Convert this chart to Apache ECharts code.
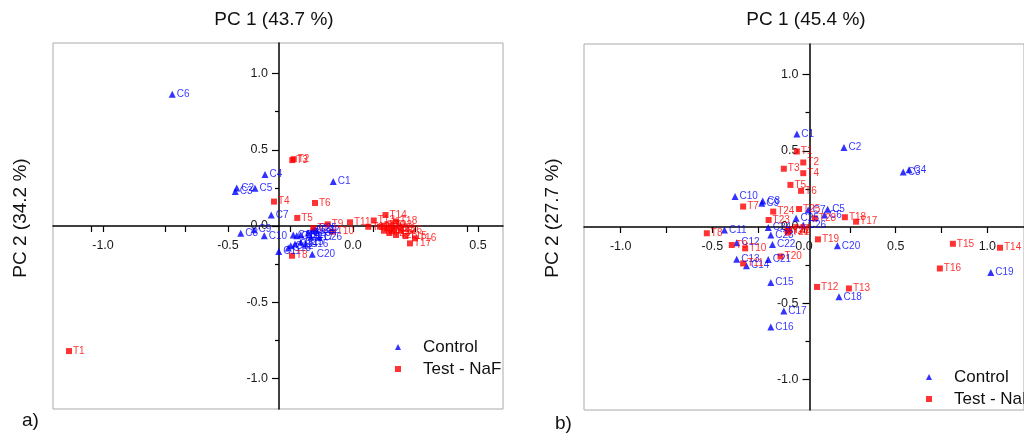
<!DOCTYPE html>
<html><head><meta charset="utf-8">
<script src="https://cdn.jsdelivr.net/npm/echarts@6/dist/echarts.min.js"></script>
<style>html,body{margin:0;padding:0;background:#fff}#c{width:1024px;height:433px}</style>
</head><body><div id="c"></div>
<script>
// ---------- Panel a) data ----------
const ctrlA_names = ['C1','C2','C3','C4','C5','C6','C7','C8','C9','C10','C11','C12','C13','C14','C15','C16','C17','C18','C19','C20','C21','C22','C23','C24','C25','C26'];
const ctrlA_pc1 = [-0.079,-0.465,-0.471,-0.352,-0.392,-0.723,-0.327,-0.449,-0.396,-0.355,-0.297,-0.249,-0.259,-0.232,-0.209,-0.190,-0.169,-0.239,-0.225,-0.163,-0.209,-0.145,-0.179,-0.165,-0.156,-0.135];
const ctrlA_pc2 = [0.292,0.250,0.226,0.338,0.248,0.864,0.072,-0.048,-0.024,-0.064,-0.167,-0.130,-0.145,-0.118,-0.107,-0.120,-0.074,-0.059,-0.064,-0.186,-0.059,-0.031,-0.046,-0.031,-0.015,-0.074];
const testA_names = ['T1','T2','T3','T4','T5','T6','T7','T8','T9','T10','T11','T12','T13','T14','T15','T16','T17','T18','T19','T20','T21','T22','T23','T24','T25','T26','T27','T28'];
const testA_pc1 = [-1.136,-0.237,-0.243,-0.316,-0.223,-0.152,-0.159,-0.244,-0.101,-0.081,-0.012,0.061,0.083,0.130,0.210,0.248,0.228,0.172,0.108,0.124,0.137,0.151,0.164,0.145,0.172,0.191,0.124,0.155];
const testA_pc2 = [-0.820,0.438,0.432,0.160,0.053,0.151,-0.013,-0.195,0.011,-0.037,0.024,-0.005,0.036,0.072,-0.066,-0.081,-0.114,0.030,-0.004,0.002,-0.015,0.002,-0.020,-0.046,-0.059,-0.031,-0.031,-0.035];

// ---------- Panel b) data ----------
const ctrlB_names = ['C1','C2','C3','C4','C5','C6','C7','C8','C9','C10','C11','C12','C13','C14','C15','C16','C17','C18','C19','C20','C21','C22','C23','C24','C25','C26'];
const ctrlB_pc1 = [-0.039,0.218,0.541,0.573,0.129,0.112,0.023,-0.225,-0.230,-0.376,-0.434,-0.367,-0.367,-0.314,-0.181,-0.181,-0.110,0.191,1.019,0.182,-0.195,-0.172,-0.181,-0.195,-0.043,-0.004];
const ctrlB_pc2 = [0.610,0.522,0.360,0.375,0.116,0.079,0.112,0.171,0.156,0.200,-0.020,-0.103,-0.211,-0.254,-0.364,-0.656,-0.550,-0.458,-0.298,-0.123,-0.213,-0.114,-0.053,-0.004,0.057,0.013];
const testB_names = ['T1','T2','T3','T4','T5','T6','T7','T8','T9','T10','T11','T12','T13','T14','T15','T16','T17','T18','T19','T20','T21','T22','T23','T24','T25','T26','T27','T28'];
const testB_pc1 = [-0.039,-0.004,-0.110,-0.004,-0.074,-0.016,-0.332,-0.530,-0.394,-0.321,-0.332,0.071,0.245,1.069,0.812,0.741,0.284,0.223,0.076,-0.128,-0.087,-0.080,-0.193,-0.168,-0.027,-0.090,-0.083,0.059];
const testB_pc2 = [0.495,0.423,0.382,0.353,0.276,0.237,0.134,-0.041,-0.118,-0.140,-0.239,-0.393,-0.403,-0.136,-0.110,-0.272,0.035,0.064,-0.081,-0.193,-0.037,-0.020,0.046,0.101,0.118,-0.025,-0.015,0.057];

// ---------- axes ----------
const xRangeA = [-1.2, 0.6];
const xRangeB = [-1.2, 1.2];
const yRange = [-1.2, 1.2];
const xLabelsA = [-1.0, -0.5, 0.0, 0.5];
const xTicksA = [-1.048, -1.0, -0.75, -0.672, -0.5, -0.25, 0.0, 0.08, 0.25, 0.456, 0.5];
const xLabelsB = [-1.0, -0.5, 0.0, 0.5, 1.0];
const xTicksB = [-1.0, -0.75, -0.5, -0.25, 0.0, 0.25, 0.5, 0.75, 1.0];
const yLabels = [-1.0, -0.5, 0.0, 0.5, 1.0];
const yMinorTicks = [-0.75, -0.25, 0.25, 0.75];
const yCrossA = -0.296;   // PC1 value where the vertical axis sits in panel a
const yCrossB = 0.0;
const xCross = 0.0;       // PC2 value where the horizontal axis sits

const FONT = '"Liberation Sans", Arial, sans-serif';
const gridA = {left: 53, top: 43, width: 450, height: 366};
const gridB = {left: 584, top: 44, width: 451, height: 366};

function zip(xs, ys, ns) { return xs.map((x, i) => [x, ys[i], ns[i]]); }
function fmt(v) { return Number(v).toFixed(1); }

function xAxisDef(gi, grid, range, labels, ticks) {
  const off = -((xCross - yRange[0]) / (yRange[1] - yRange[0]) * grid.height);
  return {
    type: 'value', gridIndex: gi, min: range[0], max: range[1], position: 'bottom', offset: off,
    splitLine: {show: false},
    axisLine: {onZero: false, lineStyle: {color: '#000', width: 1.5}},
    axisTick: {show: true, length: 6, customValues: ticks, lineStyle: {color: '#000', width: 1.2}},
    axisLabel: {customValues: labels, formatter: fmt, fontSize: 12.5, color: '#1a1a1a', fontFamily: FONT, margin: 13}
  };
}
function yAxisDefs(gi, grid, xr, cross) {
  const off = -((cross - xr[0]) / (xr[1] - xr[0]) * grid.width);
  return [{
    type: 'value', gridIndex: gi, min: yRange[0], max: yRange[1], position: 'left', offset: off,
    splitLine: {show: false},
    axisLine: {onZero: false, lineStyle: {color: '#000', width: 1.5}},
    axisTick: {show: true, length: 7, customValues: yLabels, lineStyle: {color: '#000', width: 1.2}},
    axisLabel: {customValues: yLabels, formatter: fmt, fontSize: 12.5, color: '#1a1a1a', fontFamily: FONT, margin: 11}
  }, {
    type: 'value', gridIndex: gi, min: yRange[0], max: yRange[1], position: 'left', offset: off,
    splitLine: {show: false},
    axisLine: {show: false, onZero: false},
    axisTick: {show: true, length: 4, customValues: yMinorTicks, lineStyle: {color: '#000', width: 1.2}},
    axisLabel: {show: false}
  }];
}

function scatter(name, data, xi, yi, color, symbol, size) {
  return {
    name: name, type: 'scatter', xAxisIndex: xi, yAxisIndex: yi,
    data: data, symbol: symbol, symbolSize: size,
    itemStyle: {color: color},
    label: {show: true, position: 'right', distance: 1, formatter: p => p.data[2],
            color: color, fontSize: 10, fontFamily: FONT},
    emphasis: {disabled: true}
  };
}

const BLUE = '#0000ff', RED = '#ff0000';
const chart = echarts.init(document.getElementById('c'), null, {renderer: 'canvas'});

const legendCommon = {
  orient: 'vertical', itemWidth: 6, itemHeight: 6, itemGap: 2,
  data: [{name: 'Control', icon: 'triangle'}, {name: 'Test - NaF', icon: 'rect'}],
  textStyle: {fontSize: 17, color: '#111', fontFamily: FONT, padding: [0, 0, 0, 17], lineHeight: 20},
  selectedMode: false
};

chart.setOption({
  animation: false,
  backgroundColor: '#fff',
  grid: [
    Object.assign({show: true, borderColor: '#aaa', borderWidth: 1}, gridA),
    Object.assign({show: true, borderColor: '#aaa', borderWidth: 1}, gridB)
  ],
  xAxis: [xAxisDef(0, gridA, xRangeA, xLabelsA, xTicksA), xAxisDef(1, gridB, xRangeB, xLabelsB, xTicksB)],
  yAxis: yAxisDefs(0, gridA, xRangeA, yCrossA).concat(yAxisDefs(1, gridB, xRangeB, yCrossB)),
  legend: [
    Object.assign({left: 390, top: 332}, legendCommon),
    Object.assign({left: 921, top: 362}, legendCommon)
  ],
  series: [
    scatter('Control', zip(ctrlA_pc1, ctrlA_pc2, ctrlA_names), 0, 0, BLUE, 'triangle', 7),
    scatter('Test - NaF', zip(testA_pc1, testA_pc2, testA_names), 0, 0, RED, 'rect', 6),
    scatter('Control', zip(ctrlB_pc1, ctrlB_pc2, ctrlB_names), 1, 2, BLUE, 'triangle', 7),
    scatter('Test - NaF', zip(testB_pc1, testB_pc2, testB_names), 1, 2, RED, 'rect', 6)
  ],
  graphic: [
    {type: 'text', x: 274, y: 20, style: {text: 'PC 1 (43.7 %)', fontSize: 19, fontFamily: FONT, fill: '#111', align: 'center', verticalAlign: 'middle'}},
    {type: 'text', x: 806, y: 20, style: {text: 'PC 1 (45.4 %)', fontSize: 19, fontFamily: FONT, fill: '#111', align: 'center', verticalAlign: 'middle'}},
    {type: 'text', x: 21, y: 218, rotation: Math.PI / 2, style: {text: 'PC 2 (34.2 %)', fontSize: 19, fontFamily: FONT, fill: '#111', align: 'center', verticalAlign: 'middle'}},
    {type: 'text', x: 553, y: 218, rotation: Math.PI / 2, style: {text: 'PC 2 (27.7 %)', fontSize: 19, fontFamily: FONT, fill: '#111', align: 'center', verticalAlign: 'middle'}},
    {type: 'text', x: 22, y: 421, style: {text: 'a)', fontSize: 19, fontFamily: FONT, fill: '#111', align: 'left', verticalAlign: 'middle'}},
    {type: 'text', x: 555, y: 424, style: {text: 'b)', fontSize: 19, fontFamily: FONT, fill: '#111', align: 'left', verticalAlign: 'middle'}}
  ]
});
</script>
</body></html>
